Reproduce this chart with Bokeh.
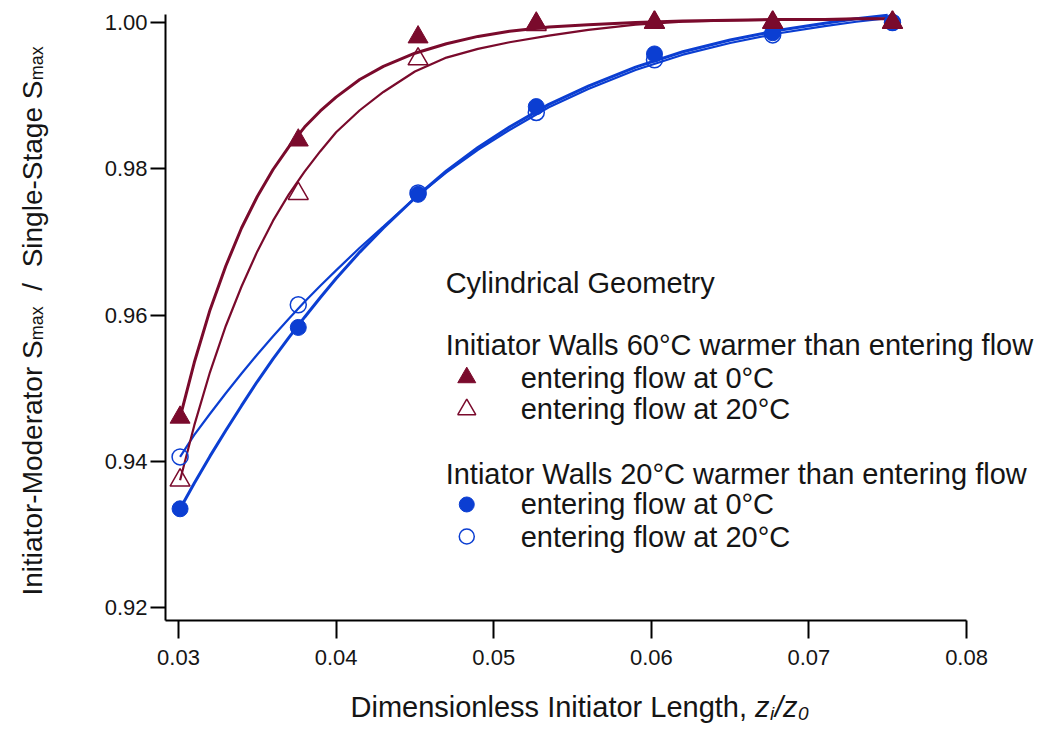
from math import pi
from bokeh.plotting import figure
from bokeh.models import Range1d, FixedTicker, Label, PrintfTickFormatter
from bokeh.embed import file_html
from bokeh.resources import INLINE

# ---------------- data ----------------
x_len = [0.0301, 0.0376, 0.0452, 0.0527, 0.0602, 0.0677, 0.0753]

walls60_flow0 = [0.9460, 0.9839, 0.9980, 0.9999, 1.0000, 1.0000, 1.0000]
walls60_flow20 = [0.9374, 0.9766, 0.9950, 0.9997, 1.0000, 1.0000, 1.0000]
walls20_flow0 = [0.9335, 0.9583, 0.9765, 0.9885, 0.9957, 0.9986, 1.0000]
walls20_flow20 = [0.9406, 0.9614, 0.9767, 0.9877, 0.9949, 0.9983, 1.0000]

fit_x_red = [0.0301, 0.0310, 0.0320, 0.0330, 0.0340, 0.0350, 0.0360, 0.0370,
             0.0380, 0.0390, 0.0400, 0.0415, 0.0430, 0.0450, 0.0470, 0.0490,
             0.0510, 0.0535, 0.0560, 0.0590, 0.0620, 0.0650, 0.0680, 0.0710,
             0.0730, 0.0753]
fit_walls60_flow0 = [0.9460, 0.9535, 0.9607, 0.9667, 0.9719, 0.9762, 0.9799, 0.9830,
                     0.9857, 0.9879, 0.9898, 0.9922, 0.9940, 0.9958, 0.9971, 0.9981,
                     0.9988, 0.9994, 0.9997, 1.0000, 1.0002, 1.0003, 1.0004, 1.0004,
                     1.0005, 1.0005]
fit_walls60_flow20 = [0.9374, 0.9449, 0.9522, 0.9585, 0.9639, 0.9687, 0.9729, 0.9765,
                      0.9796, 0.9824, 0.9850, 0.9880, 0.9905, 0.9933, 0.9952, 0.9964,
                      0.9973, 0.9982, 0.9990, 0.9997, 1.0001, 1.0003, 1.0004, 1.0004,
                      1.0005, 1.0005]

fit_x_blue = [0.0301, 0.0310, 0.0320, 0.0330, 0.0340, 0.0350, 0.0360, 0.0370,
              0.0380, 0.0390, 0.0400, 0.0415, 0.0430, 0.0450, 0.0470, 0.0490,
              0.0510, 0.0535, 0.0560, 0.0590, 0.0620, 0.0650, 0.0680, 0.0710,
              0.0730, 0.0750]
fit_walls20_flow0 = [0.9335, 0.9370, 0.9407, 0.9442, 0.9476, 0.9509, 0.9540, 0.9569,
                     0.9597, 0.9624, 0.9650, 0.9686, 0.9719, 0.9760, 0.9797, 0.9829,
                     0.9857, 0.9888, 0.9913, 0.9939, 0.9960, 0.9976, 0.9989, 0.9999,
                     1.0005, 1.0010]
fit_walls20_flow20 = [0.9406, 0.9436, 0.9465, 0.9493, 0.9520, 0.9546, 0.9571, 0.9595,
                      0.9618, 0.9640, 0.9661, 0.9692, 0.9721, 0.9760, 0.9795, 0.9826,
                      0.9853, 0.9884, 0.9909, 0.9935, 0.9956, 0.9972, 0.9985, 0.9995,
                      1.0001, 1.0006]

x_ticks = [0.03, 0.04, 0.05, 0.06, 0.07, 0.08]
y_ticks = [0.92, 0.94, 0.96, 0.98, 1.00]

legend_header = "Cylindrical Geometry"
group1_title = "Initiator Walls 60\u00b0C warmer than entering flow"
group2_title = "Intiator Walls 20\u00b0C warmer than entering flow"
item_flow0 = "entering flow at 0\u00b0C"
item_flow20 = "entering flow at 20\u00b0C"

# ---------------- styling ----------------
RED = "#7A0A2C"
BLUE = "#0B3ED2"
FONT = "Liberation Sans"
TXT = "#151515"

# axis extents (data) ; frame covers the whole canvas, axes are placed inside it
X_AX0, X_AX1 = 0.02918, 0.0800
Y_AX0, Y_AX1 = 0.91822, 1.00109

p = figure(width=1044, height=729, output_backend="svg", toolbar_location=None,
           x_range=Range1d(0.0187063, 0.0849458), y_range=Range1d(0.903319, 1.0030085),
           min_border=0)
p.background_fill_color = "white"
p.border_fill_color = "white"
p.outline_line_color = None
p.grid.visible = False

for ax in (p.xaxis[0], p.yaxis[0]):
    ax.axis_line_width = 2
    ax.axis_line_color = "black"
    ax.major_tick_line_width = 2
    ax.major_tick_line_color = "black"
    ax.major_tick_in = 0
    ax.minor_tick_in = 0
    ax.minor_tick_out = 0
    ax.major_label_text_font = FONT
    ax.major_label_text_font_size = "22px"
    ax.major_label_text_color = TXT
    ax.formatter = PrintfTickFormatter(format="%.2f")

p.xaxis.ticker = FixedTicker(ticks=x_ticks)
p.yaxis.ticker = FixedTicker(ticks=y_ticks)
p.xaxis.fixed_location = Y_AX0
p.yaxis.fixed_location = X_AX0
p.xaxis.bounds = (X_AX0, X_AX1)
p.yaxis.bounds = (Y_AX0, Y_AX1)
p.xaxis.major_tick_out = 18
p.yaxis.major_tick_out = 15
p.xaxis.major_label_standoff = 11
p.yaxis.major_label_standoff = 3

# fitted curves
p.line(fit_x_blue, fit_walls20_flow20, line_color=BLUE, line_width=2.2)
p.line(fit_x_blue, fit_walls20_flow0, line_color=BLUE, line_width=3)
p.line(fit_x_red, fit_walls60_flow20, line_color=RED, line_width=2.2)
p.line(fit_x_red, fit_walls60_flow0, line_color=RED, line_width=3)

# markers
p.scatter(x_len, walls20_flow20, marker="circle", size=16, fill_color=None,
          line_color=BLUE, line_width=1.5)
p.scatter(x_len, walls20_flow0, marker="circle", size=16, fill_color=BLUE,
          line_color=BLUE)
p.scatter(x_len, walls60_flow20, marker="triangle", size=20, fill_color=None,
          line_color=RED, line_width=1.5)
p.scatter(x_len, walls60_flow0, marker="triangle", size=20, fill_color=RED,
          line_color=RED)

# ---------------- legend (drawn by hand) ----------------
hx = 0.04695
mx = 0.04829
tx = 0.05171
p.add_layout(Label(x=hx, y=0.96444, text=legend_header, text_font=FONT,
                   text_font_size="29px", text_color=TXT, text_baseline="middle"))
p.add_layout(Label(x=hx, y=0.95596, text=group1_title, text_font=FONT,
                   text_font_size="29px", text_color=TXT, text_baseline="middle"))
p.add_layout(Label(x=hx, y=0.93819, text=group2_title, text_font=FONT,
                   text_font_size="29px", text_color=TXT, text_baseline="middle"))
for yy, txt in [(0.95145, item_flow0), (0.94708, item_flow20),
                (0.93409, item_flow0), (0.92971, item_flow20)]:
    p.add_layout(Label(x=tx, y=yy, text=txt, text_font=FONT, text_font_size="29px",
                       text_color=TXT, text_baseline="middle"))
p.scatter([mx], [0.95145], marker="triangle", size=18, fill_color=RED, line_color=RED)
p.scatter([mx], [0.94708], marker="triangle", size=18, fill_color=None,
          line_color=RED, line_width=1.5)
p.scatter([mx], [0.93409], marker="circle", size=15, fill_color=BLUE, line_color=BLUE)
p.scatter([mx], [0.92971], marker="circle", size=15, fill_color=None,
          line_color=BLUE, line_width=1.5)

# ---------------- axis titles (with subscripts) ----------------
ax_x, ax_y = 0.040913, 0.905097
XSH = 9.0
xpieces = [("Dimensionless Initiator Length,", "29px", "normal", 0.0, 0.0),
           ("z", "29px", "italic", 404.6, 0.0),
           ("i", "19px", "italic", 419.5, -6.0),
           ("/", "29px", "italic", 424.5, 0.0),
           ("z", "29px", "italic", 432.6, 0.0),
           ("0", "19px", "italic", 447.5, -6.0)]
for txt, fs, st, xo, yo in xpieces:
    p.add_layout(Label(x=ax_x, y=ax_y, text=txt, text_font=FONT, text_font_size=fs,
                       text_font_style=st, text_color=TXT, x_offset=xo, y_offset=yo + XSH,
                       text_baseline="alphabetic", text_align="left"))

ay_x, ay_y = 0.021244, 0.921644
YSH = -8.0
ypieces = [("Initiator-Moderator S", "28px", 0.0, 0.0),
           ("max", "18px", 5.0, 255.2),
           ("/\u00a0\u00a0Single-Stage S", "28px", 0.0, 304.8),
           ("max", "18px", 5.0, 515.2)]
for txt, fs, xo, yo in ypieces:
    p.add_layout(Label(x=ay_x, y=ay_y, text=txt, text_font=FONT, text_font_size=fs,
                       text_color=TXT, angle=pi / 2, x_offset=xo + YSH, y_offset=yo,
                       text_baseline="alphabetic", text_align="left"))

open("out.html", "w").write(file_html(p, INLINE))
